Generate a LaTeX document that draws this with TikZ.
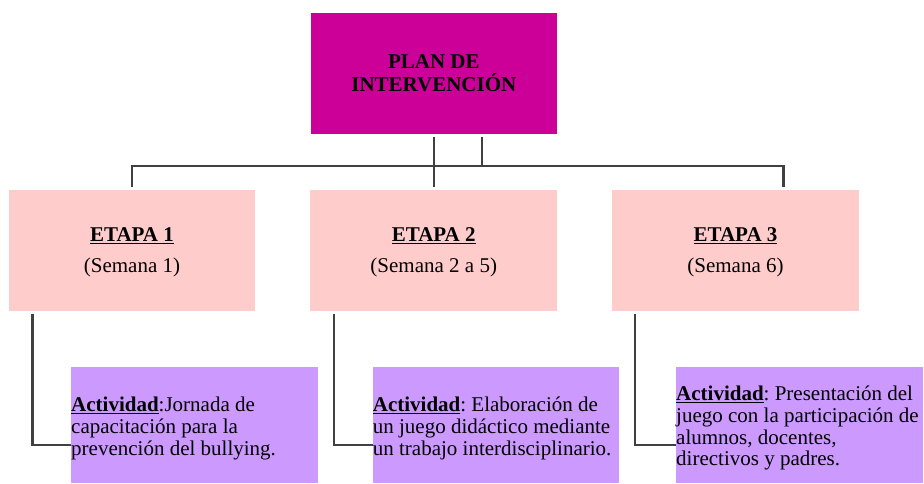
\documentclass[tikz,border=0pt]{standalone}
\usepackage{fontspec}
\setmainfont{Liberation Serif}
\frenchspacing
\definecolor{planc}{HTML}{CC0099}
\definecolor{etapac}{HTML}{FFCCCC}
\definecolor{actc}{HTML}{CC99FF}
\definecolor{linec}{HTML}{404040}
\begin{document}
\begin{tikzpicture}[x=1pt,y=-1pt,
  box/.style={draw=none, inner sep=0pt, outer sep=0pt},
  planbox/.style={box, fill=planc, minimum width=246.3pt, minimum height=121.3pt},
  etapabox/.style={box, fill=etapac, minimum width=246.6pt, minimum height=121.5pt},
  actbox/.style={box, fill=actc, minimum width=246.7pt, minimum height=116.3pt},
  plantext/.style={inner sep=0pt, align=center, font=\fontsize{21}{22.4}\selectfont\bfseries},
  etapatext/.style={inner sep=0pt, align=center, font=\fontsize{21}{22}\selectfont},
  acttext/.style={inner sep=0pt, align=left, anchor=west, font=\fontsize{21}{21.7}\selectfont\frenchspacing},
  conn/.style={draw=linec, line width=2.4pt}]
\useasboundingbox (0,0) rectangle (924,483);
% boxes
\node[planbox] (plan) at (433.85,73.35) {};
\node[etapabox] (etapa1) at (132,250.3) {};
\node[etapabox] (etapa2) at (433.75,250.3) {};
\node[etapabox] (etapa3) at (735.5,250.3) {};
\node[actbox] (act1) at (194.35,424.85) {};
\node[actbox] (act2) at (496,424.85) {};
\node[actbox] (act3) at (799.35,424.85) {};
% texts
\node[plantext] (plant) at (plan.center) {PLAN DE\\INTERVENCIÓN};
\node[etapatext] (e1t) at ([yshift=-2pt]etapa1.center) {\underline{\textbf{ETAPA 1}}\\[8.5pt](Semana 1)};
\node[etapatext] (e2t) at ([yshift=-2pt]etapa2.center) {\underline{\textbf{ETAPA 2}}\\[8.5pt](Semana 2 a 5)};
\node[etapatext] (e3t) at ([yshift=-2pt]etapa3.center) {\underline{\textbf{ETAPA 3}}\\[8.5pt](Semana 6)};
\node[acttext] (a1t) at ([yshift=-3.5pt]act1.west) {\underline{\textbf{Actividad}}:Jornada de\\capacitación para la\\prevención del bullying.};
\node[acttext] (a2t) at ([yshift=-3.5pt]act2.west) {\underline{\textbf{Actividad}}: Elaboración de\\un juego didáctico mediante\\un trabajo interdisciplinario.};
\node[acttext] (a3t) at ([yshift=-3.5pt]act3.west) {\underline{\textbf{Actividad}}: Presentación del\\juego con la participación de\\alumnos, docentes,\\directivos y padres.};
% connector coordinates
\coordinate (p1) at (433.7,137);
\coordinate (p2) at (481.7,137);
\coordinate (j2) at (481.7,166);
\coordinate (e1top) at (131.7,187);
\coordinate (e2top) at (433.7,187);
\coordinate (hr) at (783.3,166);
\coordinate (e3top) at (783.3,187);
\coordinate (s1) at (32.3,314);
\coordinate (s2) at (334,314);
\coordinate (s3) at (635,314);
\coordinate (c1) at (71,445);
\coordinate (c2) at (372.7,445);
\coordinate (c3) at (676,445);
% connectors
\draw[conn] (p1) -- (e2top);
\draw[conn] (p2) -- (j2);
\draw[conn] (e1top) |- (hr) -- (e3top);
\draw[conn] (s1) |- (c1);
\draw[conn] (s2) |- (c2);
\draw[conn] (s3) |- (c3);
\end{tikzpicture}
\end{document}
